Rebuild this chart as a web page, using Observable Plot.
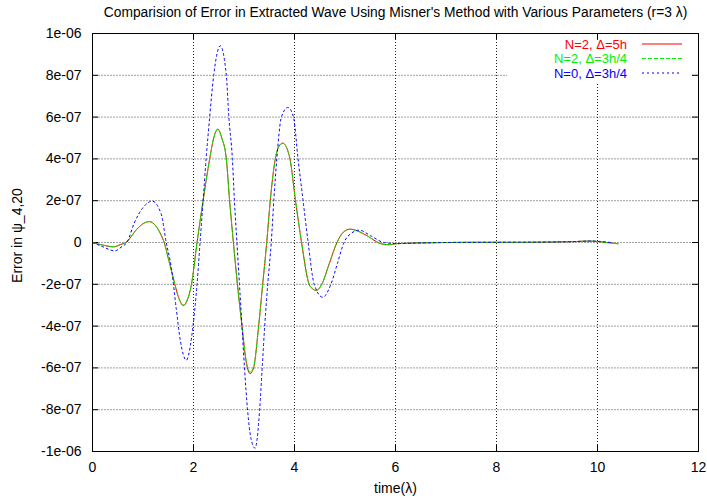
<!DOCTYPE html>
<html><head><meta charset="utf-8">
<script src="https://cdn.jsdelivr.net/npm/d3@7"></script>
<script src="https://cdn.jsdelivr.net/npm/@observablehq/plot@0.6"></script>
<style>html,body{margin:0;padding:0;background:#fff} svg{display:block}</style>
</head><body><div id="chart"></div>
<script>
const title = "Comparision of Error in Extracted Wave Using Misner's Method with Various Parameters (r=3 λ)";
const xLabel = "time(λ)";
const yLabel = "Error in ψ_4,20";
const xTicks = [0, 2, 4, 6, 8, 10, 12];
const yTicks = [-1e-6, -8e-7, -6e-7, -4e-7, -2e-7, 0, 2e-7, 4e-7, 6e-7, 8e-7, 1e-6];
const yTickLabels = ["-1e-06", "-8e-07", "-6e-07", "-4e-07", "-2e-07", "0", "2e-07", "4e-07", "6e-07", "8e-07", "1e-06"];
const seriesNames = ["N=2, Δ=5h", "N=2, Δ=3h/4", "N=0, Δ=3h/4"];
const seriesColors = ["#ff0000", "#00ee00", "#0000ff"];
const seriesDash = ["none", "4,2", "2,3"];
const valueUnit = 1e-7;

// N=2, Δ=5h  (values in units of 1e-7)
const tN2a = [0, 0.2, 0.42, 0.55, 0.66, 0.88, 1.0, 1.13, 1.25, 1.35, 1.42, 1.5, 1.6, 1.7, 1.80, 1.88, 1.96, 2.07, 2.19, 2.32, 2.40, 2.48, 2.56, 2.65, 2.715, 2.79, 2.87, 2.96, 3.05, 3.12, 3.19, 3.29, 3.37, 3.45, 3.52, 3.62, 3.69, 3.77, 3.85, 3.91, 4.02, 4.14, 4.29, 4.36, 4.43, 4.54, 4.69, 4.84, 4.97, 5.10, 5.25, 5.44, 5.70, 5.85, 6.0, 6.5, 7.0, 7.5, 8.0, 8.5, 9.0, 9.5, 9.86, 10.1, 10.39];
const vN2a = [0, -0.12, -0.21, -0.1, 0, 0.64, 0.9, 1.0, 0.8, 0.4, 0, -0.75, -1.7, -2.6, -3.02, -2.75, -2.0, 0, 2.0, 4.0, 5.0, 5.43, 5.0, 4.0, 2.0, 0, -2.0, -4.0, -5.8, -6.27, -6.0, -4.0, -2.0, 0, 2.0, 4.0, 4.6, 4.76, 4.5, 4.0, 2.0, 0, -2.0, -2.22, -2.30, -2.0, -1.0, 0, 0.5, 0.64, 0.55, 0.32, -0.05, -0.11, -0.06, -0.02, 0, 0.01, 0.01, 0.01, 0.02, 0.04, 0.07, 0.02, -0.05];
// N=2, Δ=3h/4
const tN2b = [0, 0.2, 0.42, 0.55, 0.66, 0.88, 1.0, 1.13, 1.25, 1.35, 1.42, 1.5, 1.6, 1.7, 1.80, 1.88, 1.96, 2.07, 2.19, 2.32, 2.40, 2.48, 2.56, 2.65, 2.715, 2.79, 2.87, 2.96, 3.05, 3.12, 3.19, 3.29, 3.37, 3.45, 3.52, 3.62, 3.69, 3.77, 3.85, 3.91, 4.02, 4.14, 4.29, 4.36, 4.43, 4.54, 4.69, 4.84, 4.97, 5.10, 5.25, 5.44, 5.70, 5.85, 6.0, 6.5, 7.0, 7.5, 8.0, 8.5, 9.0, 9.5, 9.86, 10.1, 10.42];
const vN2b = [0, -0.12, -0.2, -0.1, 0, 0.64, 0.9, 1.0, 0.8, 0.4, 0, -0.75, -1.7, -2.6, -2.98, -2.72, -2.0, 0, 2.0, 4.0, 5.0, 5.4, 5.0, 4.0, 2.0, 0, -2.0, -4.0, -5.75, -6.2, -5.95, -4.0, -2.0, 0, 2.0, 4.0, 4.6, 4.74, 4.5, 4.0, 2.0, 0, -2.0, -2.2, -2.28, -2.0, -1.0, 0, 0.5, 0.63, 0.55, 0.32, -0.05, -0.1, -0.06, -0.02, 0, 0.01, 0.01, 0.01, 0.02, 0.04, 0.07, 0.02, -0.07];
// N=0, Δ=3h/4
const tN0 = [0, 0.2, 0.44, 0.58, 0.68, 0.83, 1.0, 1.18, 1.36, 1.46, 1.56, 1.66, 1.74, 1.86, 1.94, 1.99, 2.07, 2.13, 2.19, 2.25, 2.32, 2.40, 2.53, 2.65, 2.70, 2.77, 2.81, 2.86, 2.91, 2.96, 3.01, 3.07, 3.14, 3.22, 3.31, 3.36, 3.41, 3.47, 3.54, 3.59, 3.65, 3.74, 3.87, 3.98, 4.07, 4.17, 4.27, 4.39, 4.56, 4.72, 4.85, 4.98, 5.13, 5.28, 5.51, 5.77, 6.0, 6.5, 7.0, 8.0, 9.0, 9.5, 9.86, 10.26];
const vN0 = [0, -0.2, -0.40, -0.2, 0, 0.95, 1.67, 1.98, 1.36, 0, -1.19, -3.2, -4.7, -5.63, -4.9, -4.0, -2.0, 0, 2.0, 4.0, 6.0, 8.0, 9.41, 8.0, 6.0, 4.0, 2.0, 0, -2.0, -4.0, -6.0, -8.0, -9.4, -9.84, -8.0, -6.0, -4.0, -2.0, 0, 2.0, 4.0, 6.0, 6.46, 6.0, 4.0, 2.0, 0, -2.0, -2.62, -2.0, -1.0, 0, 0.45, 0.59, 0.32, 0, -0.05, -0.02, 0, 0.01, 0.02, 0.04, 0.07, 0.0];

const seriesT = [tN2a, tN2b, tN0];
const seriesV = [vN2a, vN2b, vN0];
const series = seriesT.map((ts, s) => ts.map((t, i) => ({t, v: seriesV[s][i] * valueUnit})));

const W = 707, H = 498, mL = 92, mR = 9, mT = 33, mB = 47;
const plotW = W - mL - mR, plotH = H - mT - mB;
const font = "'Liberation Sans', Arial, Helvetica, sans-serif";
const tickFmt = d => yTickLabels[yTicks.indexOf(d)];

const lineMarks = series.map((data, s) => Plot.line(data, {
  x: "t", y: "v", stroke: seriesColors[s], strokeWidth: 1,
  strokeDasharray: seriesDash[s], curve: "monotone-x"
}));

const chart = Plot.plot({
  width: W, height: H,
  marginLeft: mL, marginRight: mR, marginTop: mT, marginBottom: mB,
  style: {fontFamily: font, fontSize: "14px", background: "#fff", color: "#000"},
  x: {domain: [0, 12]},
  y: {domain: [-1e-6, 1e-6]},
  marks: [
    Plot.ruleY(yTicks.slice(1, -1), {y: d => d, stroke: "#a0a0a0", strokeDasharray: "2,1"}),
    Plot.ruleX(xTicks.slice(1, -1), {x: d => d, stroke: "#222", strokeDasharray: "1,2"}),
    Plot.ruleX(xTicks, {x: d => d, stroke: "#000", insetTop: plotH - 6}),
    Plot.ruleX(xTicks, {x: d => d, stroke: "#000", insetBottom: plotH - 6}),
    Plot.ruleY(yTicks, {y: d => d, stroke: "#000", insetRight: plotW - 6}),
    Plot.ruleY(yTicks, {y: d => d, stroke: "#000", insetLeft: plotW - 6}),
    Plot.axisX({ticks: xTicks, tickSize: 0, tickPadding: 11, label: null, fontSize: 14}),
    Plot.axisY({ticks: yTicks, tickFormat: tickFmt, tickSize: 0, tickPadding: 11, label: null, fontSize: 14}),
    ...lineMarks,
    Plot.frame({stroke: "#000"}),
    Plot.text([title], {frameAnchor: "top", lineAnchor: "middle", textAnchor: "middle", dx: 0, dy: -21, fontSize: 13.8}),
    Plot.text([xLabel], {frameAnchor: "bottom", lineAnchor: "middle", textAnchor: "middle", dy: 37, fontSize: 14}),
    Plot.text([yLabel], {frameAnchor: "left", lineAnchor: "middle", textAnchor: "middle", dx: -75, dy: -7, rotate: -90, fontSize: 14})
  ]
});

// legend (gnuplot-style key, top right inside the frame)
const svg = d3.select(chart);
const key = svg.append("g").attr("font-family", font).attr("font-size", 13);
key.append("rect").attr("x", 507).attr("y", 40).attr("width", 184).attr("height", 42).attr("fill", "#fff");
seriesNames.forEach((name, i) => {
  const y = 44 + i * 14.5;
  key.append("text").attr("x", 627).attr("y", y).attr("dy", "0.35em")
    .attr("text-anchor", "end").attr("fill", seriesColors[i]).text(name);
  key.append("line").attr("x1", 642).attr("x2", 682).attr("y1", y).attr("y2", y)
    .attr("stroke", seriesColors[i]).attr("stroke-width", 1.2)
    .attr("stroke-dasharray", seriesDash[i]);
});

document.getElementById("chart").appendChild(chart);
</script>
</body></html>
